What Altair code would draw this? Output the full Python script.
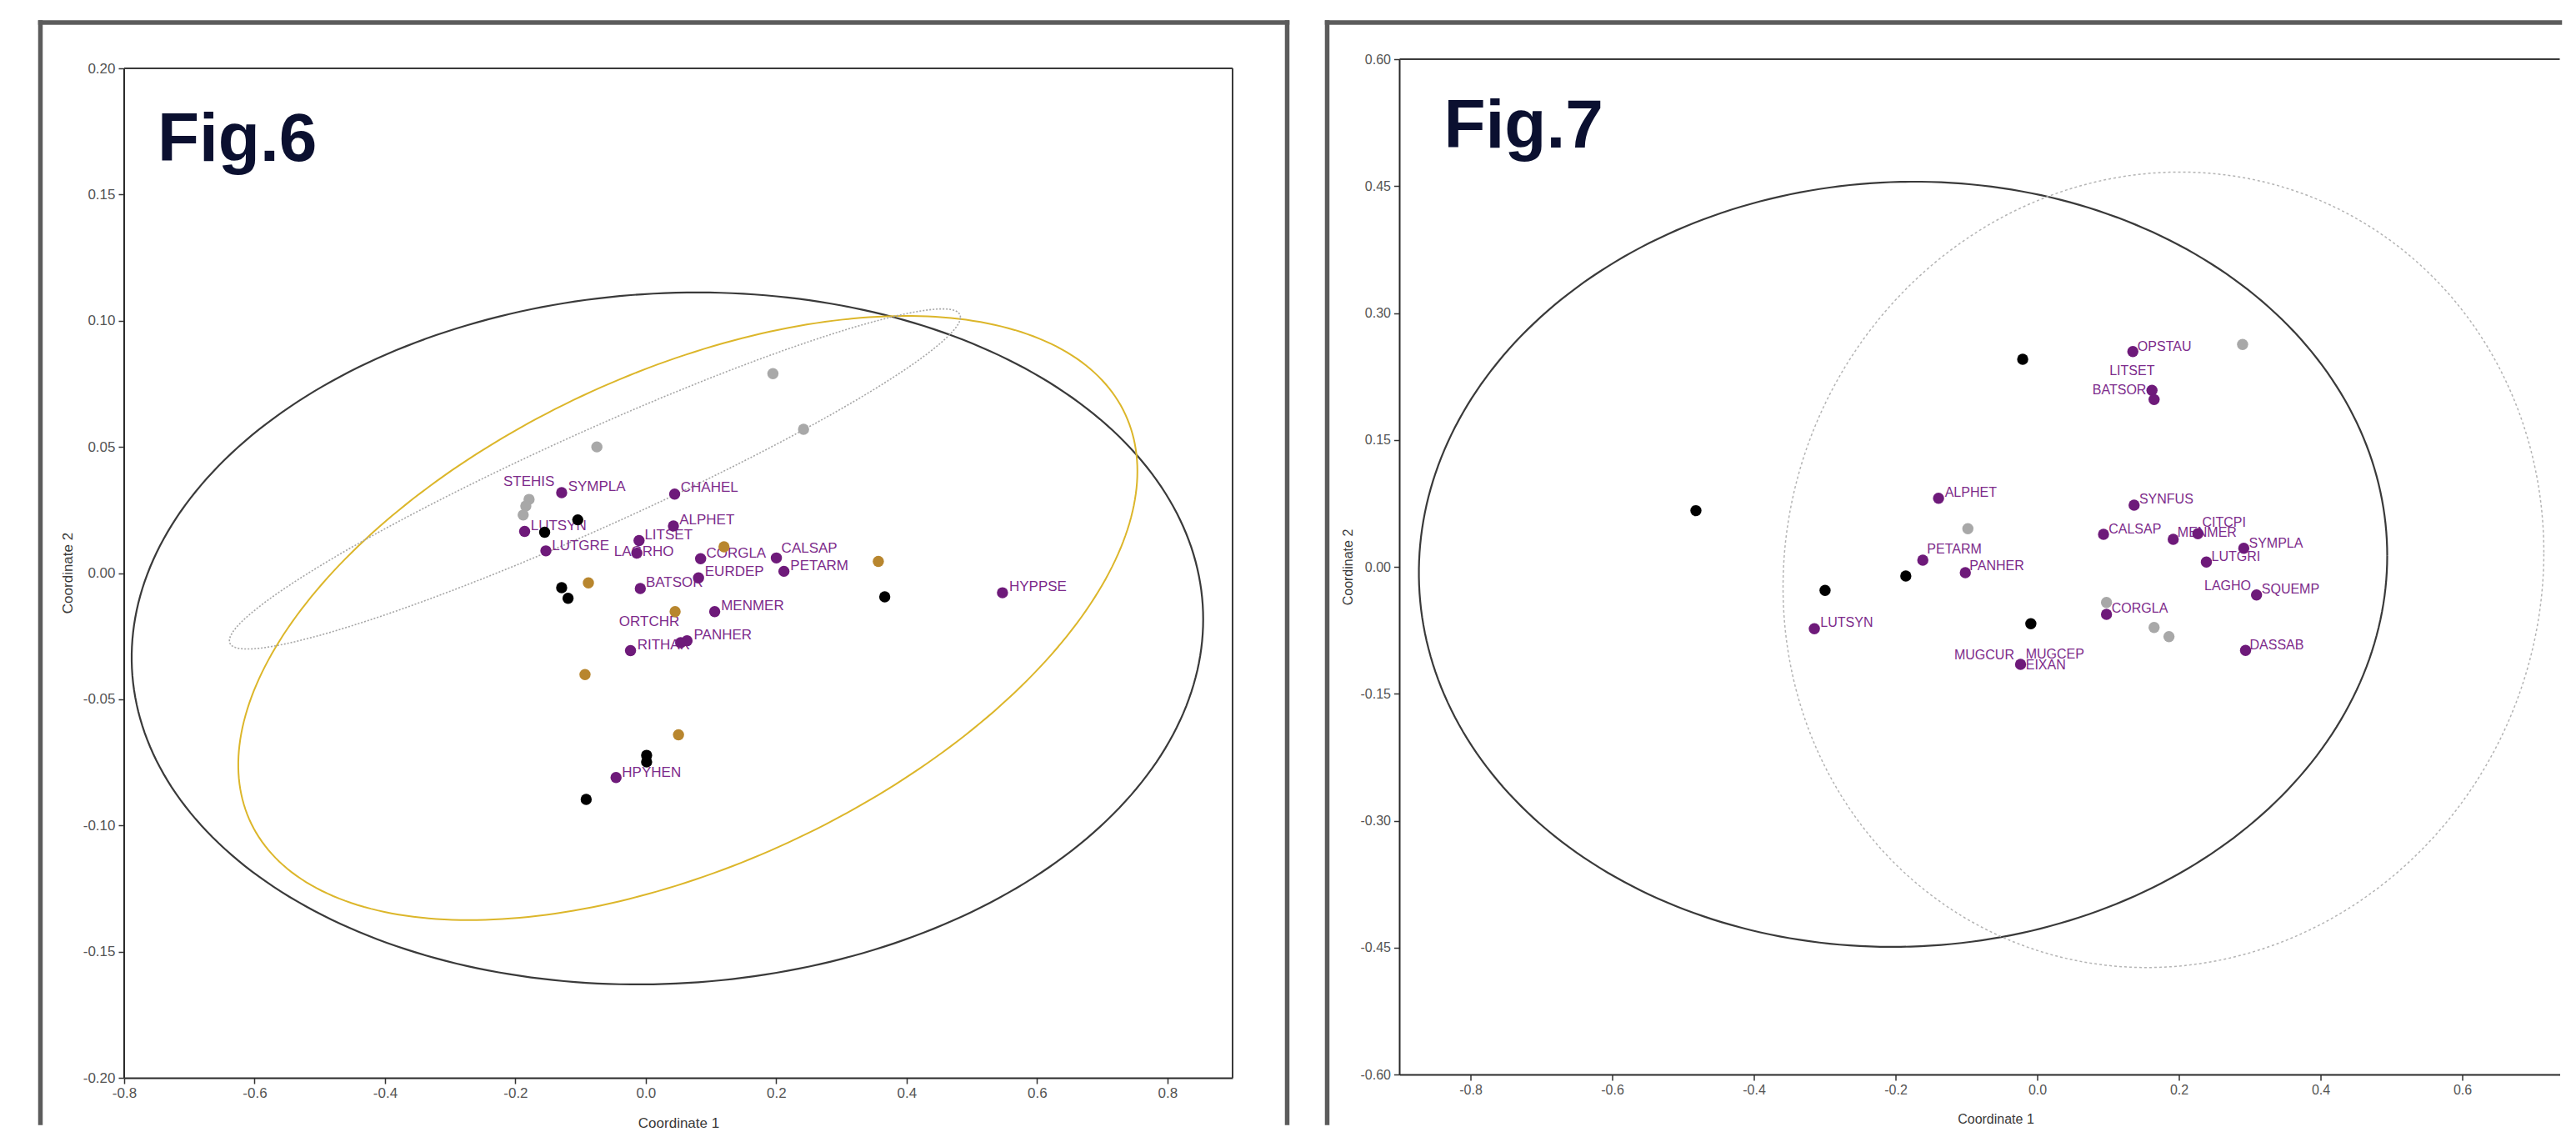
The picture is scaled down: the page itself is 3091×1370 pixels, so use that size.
import numpy as np
import pandas as pd
import altair as alt

FONT = "Liberation Sans"

# ---------------- Fig.6 data ----------------
f6_purple_names = ["SYMPLA", "CHAHEL", "ALPHET", "LUTSYN", "LITSET", "LAGRHO", "LUTGRE", "CORGLA",
                   "CALSAP", "EURDEP", "PETARM", "BATSOR", "HYPPSE", "MENMER", "PANHER", "ORTCHR",
                   "RITHAR", "HPYHEN"]
f6_purple_x = [-0.129, 0.0443, 0.0424, -0.1858, -0.0103, -0.0137, -0.1532, 0.0841,
               0.2003, 0.0809, 0.2119, -0.0084, 0.5471, 0.1057, 0.0633, 0.0535,
               -0.0234, -0.0456]
f6_purple_y = [0.0319, 0.0313, 0.0187, 0.0165, 0.0129, 0.0079, 0.0088, 0.0057,
               0.0060, -0.0019, 0.0007, -0.0061, -0.0078, -0.0153, -0.0268, -0.0276,
               -0.0307, -0.0810]
f6_gray_x = [-0.179, -0.184, -0.188, -0.075, 0.195, 0.242]
f6_gray_y = [0.0292, 0.0266, 0.0230, 0.050, 0.079, 0.057]
f6_black_x = [-0.1043, -0.1551, -0.129, -0.1192, 0.3665, 0.0013, 0.0013, -0.0914]
f6_black_y = [0.0211, 0.0162, -0.0058, -0.0100, -0.0094, -0.0722, -0.0748, -0.0897]
f6_gold_x = [0.120, 0.3567, -0.088, 0.045, -0.0932, 0.0502]
f6_gold_y = [0.0104, 0.0046, -0.0039, -0.0153, -0.0402, -0.0641]

f6_label_text = ["STEHIS", "SYMPLA", "CHAHEL", "LUTSYN", "ALPHET", "LITSET", "LUTGRE", "LAGRHO",
                 "CORGLA", "CALSAP", "PETARM", "EURDEP", "BATSOR", "HYPPSE", "MENMER", "ORTCHR",
                 "PANHER", "RITHAR", "HPYHEN"]
f6_label_x = [-0.2184, -0.1192, 0.0535, -0.1766, 0.0515, -0.0019, -0.144, -0.0488,
              0.0927, 0.208, 0.2217, 0.0906, 0.0, 0.5574, 0.1154, -0.041,
              0.0737, -0.013, -0.0365]
f6_label_y = [0.0361, 0.0343, 0.0339, 0.0187, 0.0211, 0.0151, 0.0107, 0.0085,
              0.0079, 0.0098, 0.0027, 0.0005, -0.0039, -0.0056, -0.0130, -0.0193,
              -0.0245, -0.0285, -0.0791]

# ellipses: centre x, centre y, sd x, sd y, correlation
f6_ell_black = [0.0332, -0.0259, 0.8217, 0.1371, 0.0554]
f6_ell_gold = [0.0645, -0.0178, 0.6895, 0.1197, 0.486]
f6_ell_gray = [-0.078, 0.0373, 0.5606, 0.06738, 0.951]

f6_xticks = [-0.8, -0.6, -0.4, -0.2, 0.0, 0.2, 0.4, 0.6, 0.8]
f6_yticks = [-0.20, -0.15, -0.10, -0.05, 0.00, 0.05, 0.10, 0.15, 0.20]

# ---------------- Fig.7 data ----------------
f7_purple_names = ["OPSTAU", "BATSOR", "LITSET", "ALPHET", "SYNFUS", "CALSAP", "MENMER", "CITCPI",
                   "SYMPLA", "LUTGRI", "PETARM", "PANHER", "SQUEMP", "CORGLA", "LUTSYN", "DASSAB",
                   "EIXAN"]
f7_purple_x = [0.135, 0.162, 0.165, -0.1393, 0.1368, 0.0936, 0.192, 0.2268,
               0.2916, 0.2388, -0.1615, -0.1015, 0.3096, 0.0978, -0.3146, 0.2941,
               -0.0235]
f7_purple_y = [0.2545, 0.2086, 0.1977, 0.0811, 0.0729, 0.0384, 0.0325, 0.0391,
               0.0220, 0.0056, 0.0079, -0.0069, -0.0332, -0.0562, -0.0732, -0.0988,
               -0.1153]
f7_black_x = [-0.0205, -0.1855, -0.2995, -0.009, -0.4818]
f7_black_y = [0.2453, -0.0108, -0.0279, -0.0673, 0.0664]
f7_gray_x = [0.2899, -0.0979, 0.0978, 0.165, 0.186]
f7_gray_y = [0.2628, 0.045, -0.0421, -0.0716, -0.0825]

f7_label_text = ["OPSTAU", "LITSET", "BATSOR", "ALPHET", "SYNFUS", "CALSAP", "CITCPI", "MENMER",
                 "SYMPLA", "LUTGRI", "PETARM", "PANHER", "LAGHO", "SQUEMP", "CORGLA", "LUTSYN",
                 "DASSAB", "MUGCUR", "MUGCEP", "EIXAN"]
f7_label_x = [0.1416, 0.102, 0.078, -0.1304, 0.144, 0.1008, 0.2328, 0.198,
              0.2988, 0.246, -0.1555, -0.0955, 0.2359, 0.3168, 0.105, -0.3061,
              0.300, -0.1171, -0.0162, -0.0162]
f7_label_y = [0.2601, 0.2315, 0.2086, 0.0877, 0.0795, 0.0440, 0.0522, 0.0401,
              0.0279, 0.0121, 0.0204, 0.0007, -0.0224, -0.0266, -0.0496, -0.0660,
              -0.0929, -0.1044, -0.1038, -0.1160]

f7_ell_black = [-0.1894, 0.003, 0.6835, 0.4522, 0.0225]
f7_ell_gray = [0.1782, -0.0035, 0.537, 0.4701, 0.0438]

f7_xticks = [-0.8, -0.6, -0.4, -0.2, 0.0, 0.2, 0.4, 0.6]
f7_yticks = [-0.60, -0.45, -0.30, -0.15, 0.00, 0.15, 0.30, 0.45, 0.60]

PURPLE_PT = "#6e1a7a"
PURPLE_TX = "#7d2b8b"
GRAY_PT = "#a8a8a8"
BLACK_PT = "#000000"
GOLD_PT = "#b8862e"
FRAME = "#5c5c5c"
AXIS = "#2a2a2a"
HYPHEN_EXPR = "replace(datum.label, '\u2212', '-')"


def ellipse_df(p, n=300):
    cx, cy, sx, sy, rho = p
    t = np.linspace(0, 2 * np.pi, n)
    return pd.DataFrame({
        "x": cx + sx * np.cos(t),
        "y": cy + sy * (rho * np.cos(t) + np.sqrt(1 - rho ** 2) * np.sin(t)),
        "o": np.arange(n),
    })


def panel(W, H, top, xdom, ydom, xticks, yticks, fs, ellipses, points, labels,
          fig_text, fig_pos, frame, xtitle, ytitle, right_border, label_fs):
    # `top` = pixel offset of the highest y tick from the top of the view
    def X():
        return alt.X("x:Q", scale=alt.Scale(domain=xdom, nice=False, zero=False),
                     axis=alt.Axis(values=xticks, format=".1f", labelExpr=HYPHEN_EXPR,
                                   title="Coordinate 1",
                                   titleX=xtitle[0], titleY=xtitle[1], titleAlign="center",
                                   titleBaseline="middle", titleFont=FONT, titleFontSize=fs,
                                   titleFontWeight="normal", titleColor="#3a3a3a",
                                   labelFont=FONT, labelFontSize=fs, labelColor="#555555",
                                   labelPadding=3, tickSize=7, tickColor="#333333",
                                   tickWidth=1.5, domainColor=AXIS, domainWidth=2,
                                   grid=False, labelFlush=False, labelOverlap=False))

    def Y():
        return alt.Y("y:Q", scale=alt.Scale(domain=ydom, nice=False, zero=False),
                     axis=alt.Axis(values=yticks, format=".2f", labelExpr=HYPHEN_EXPR,
                                   title="Coordinate 2",
                                   titleX=ytitle[0], titleY=ytitle[1], titleAngle=270,
                                   titleAlign="center", titleBaseline="middle",
                                   titleFont=FONT, titleFontSize=fs, titleFontWeight="normal",
                                   titleColor="#3a3a3a",
                                   labelFont=FONT, labelFontSize=fs, labelColor="#555555",
                                   labelPadding=4, tickSize=7, tickColor="#333333",
                                   tickWidth=1.5, domain=False,
                                   grid=False, labelFlush=False, labelOverlap=False))

    one = pd.DataFrame({"a": [0]})
    layers = []
    for p, color, width, dash in ellipses:
        kw = dict(color=color, strokeWidth=width, clip=True)
        if dash:
            kw["strokeDash"] = dash
        layers.append(alt.Chart(ellipse_df(p)).mark_line(**kw).encode(
            x=X(), y=Y(), order="o:Q"))
    # labels
    lab = pd.DataFrame({"label": labels[0], "x": labels[1], "y": labels[2]})
    layers.append(alt.Chart(lab).mark_text(align="left", baseline="middle", font=FONT,
                                          fontSize=label_fs, color=PURPLE_TX).encode(
        x=X(), y=Y(), text="label:N"))
    for xs, ys, color in points:
        d = pd.DataFrame({"x": xs, "y": ys})
        layers.append(alt.Chart(d).mark_circle(size=180, opacity=1, color=color).encode(
            x=X(), y=Y()))
    # plot border: left axis line, top, right
    layers.append(alt.Chart(one).mark_rule(color=AXIS, strokeWidth=2).encode(
        x=alt.value(0), y=alt.value(top), y2=alt.value(H)))
    layers.append(alt.Chart(one).mark_rule(color="#3a3a3a", strokeWidth=2).encode(
        x=alt.value(0), x2=alt.value(W), y=alt.value(top)))
    if right_border:
        layers.append(alt.Chart(one).mark_rule(color="#3a3a3a", strokeWidth=2).encode(
            x=alt.value(W), y=alt.value(top), y2=alt.value(H)))
    # outer frame
    fl, ft, fr, fb = frame
    fw = 5.5
    layers.append(alt.Chart(one).mark_rule(color=FRAME, strokeWidth=fw, strokeCap="square").encode(
        x=alt.value(fl), x2=alt.value(fr if fr is not None else W), y=alt.value(ft)))
    layers.append(alt.Chart(one).mark_rule(color=FRAME, strokeWidth=fw, strokeCap="square").encode(
        x=alt.value(fl), y=alt.value(ft), y2=alt.value(fb)))
    if fr is not None:
        layers.append(alt.Chart(one).mark_rule(color=FRAME, strokeWidth=fw, strokeCap="square").encode(
            x=alt.value(fr), y=alt.value(ft), y2=alt.value(fb)))
    # figure caption
    layers.append(alt.Chart(one).mark_text(text=fig_text, align="left", baseline="alphabetic",
                                          font=FONT, fontSize=82, fontWeight="bold",
                                          color="#0b1030").encode(
        x=alt.value(fig_pos[0]), y=alt.value(fig_pos[1])))
    return alt.layer(*layers).properties(width=W, height=H)


# Fig.6: view starts 11 px above its 0.20 tick so both panels share the same view top
PX6_Y = 3027.5
EXTRA6 = 11
W6, H6 = 1330, 1211 + EXTRA6
W7, H7 = 1392, 1218

p6 = panel(
    W6, H6, EXTRA6, [-0.8, 0.9], [-0.2, 0.2 + EXTRA6 / PX6_Y], f6_xticks, f6_yticks, 17,
    [(f6_ell_black, "#3a3a3a", 2.2, None),
     (f6_ell_gold, "#dcb62a", 2, None),
     (f6_ell_gray, "#a6a6a6", 1.6, [2, 2])],
    [(f6_purple_x, f6_purple_y, PURPLE_PT),
     (f6_gray_x, f6_gray_y, GRAY_PT),
     (f6_black_x, f6_black_y, BLACK_PT),
     (f6_gold_x, f6_gold_y, GOLD_PT)],
    (f6_label_text, f6_label_x, f6_label_y),
    "Fig.6", (40, 122),
    (-100.5, -44, 1395.5, 1276),
    (W6 / 2, 54), (-68, 616), True, 17,
)

p7 = panel(
    W7, H7, 0, [-0.9, -0.9 + W7 / 850.0], [-0.6, 0.6], f7_xticks, f7_yticks, 16,
    [(f7_ell_black, "#3a3a3a", 2.2, None),
     (f7_ell_gray, "#b4b4b4", 1.5, [3, 3])],
    [(f7_purple_x, f7_purple_y, PURPLE_PT),
     (f7_gray_x, f7_gray_y, GRAY_PT),
     (f7_black_x, f7_black_y, BLACK_PT)],
    (f7_label_text, f7_label_x, f7_label_y),
    "Fig.7", (53, 106),
    (-87, -44, None, 1276),
    (715, 53), (-62, H7 / 2), False, 16,
)

chart = alt.hconcat(p6, p7, spacing=39.5).properties(
    padding={"left": 36, "top": 15, "right": 0, "bottom": 0},
    background="white",
).configure_view(strokeWidth=0)

chart.save("out.html", embed_options={"renderer": "svg", "actions": False})
